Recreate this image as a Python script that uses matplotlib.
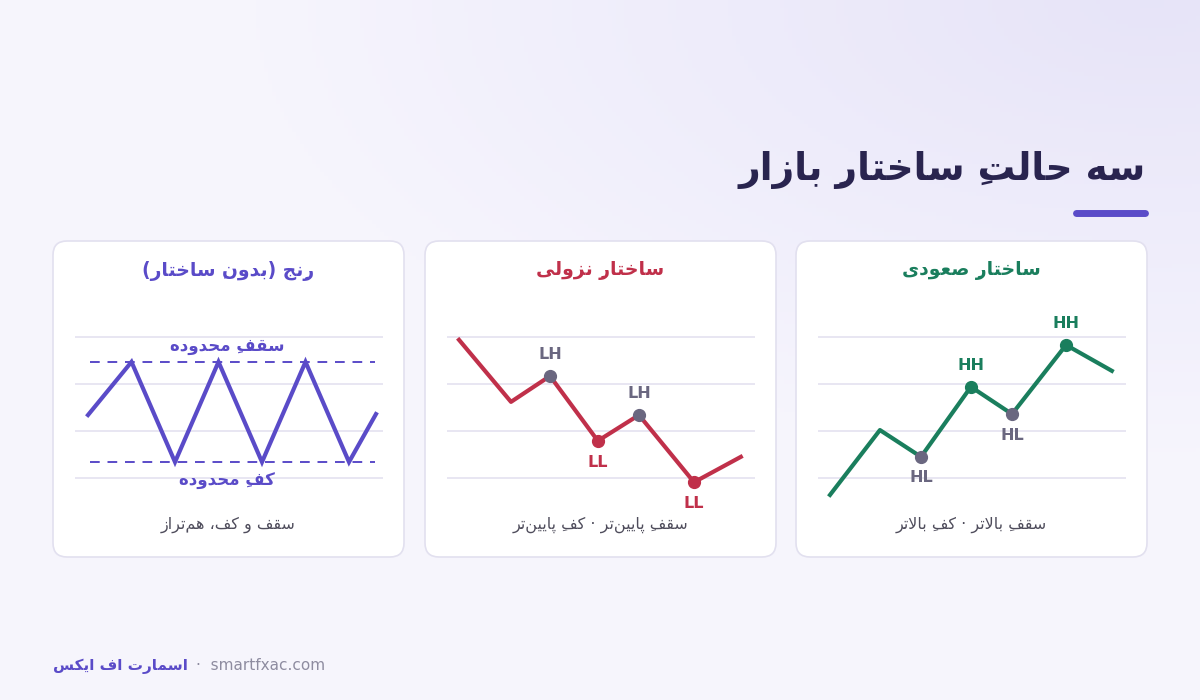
import numpy as np
import matplotlib
matplotlib.use("Agg")
import matplotlib.pyplot as plt
from matplotlib.patches import FancyBboxPatch

# ---------------- data ----------------
title = "سه حالتِ ساختارِ بازار"
panel_titles = ["رِنج (بدونِ ساختار)", "ساختارِ نزولی", "ساختارِ صعودی"]
panel_subtitles = ["سقف و کف، هم\u200cتراز", "سقفِ پایین\u200cتر · کفِ پایین\u200cتر", "سقفِ بالاتر · کفِ بالاتر"]
range_top_label = "سقفِ محدوده"
range_bottom_label = "کفِ محدوده"
footer_brand = "اسمارت اف ایکس"
footer_site = "·  smartfxac.com"

range_x = [0, 1, 2, 3, 4, 5, 6, 6.62]
range_y = [1.34, 2.47, 0.34, 2.47, 0.34, 2.47, 0.34, 1.36]
range_ceiling = 2.47
range_floor = 0.34

down_x = [0, 1, 1.75, 2.67, 3.46, 4.52, 5.42]
down_y = [2.94, 1.62, 2.17, 0.79, 1.34, -0.09, 0.45]
down_marks = [(2, "LH"), (3, "LL"), (4, "LH"), (5, "LL")]

up_x = [0, 0.96, 1.75, 2.71, 3.5, 4.54, 5.42]
up_y = [-0.36, 1.02, 0.45, 1.94, 1.36, 2.83, 2.28]
up_marks = [(2, "HL"), (3, "HH"), (4, "HL"), (5, "HH")]

grid_levels = [0, 1, 2, 3]

# ---------------- simple Persian shaper ----------------
F = {
    'ا': (0xFE8D, 0xFE8E), 'د': (0xFEA9, 0xFEAA), 'ر': (0xFEAD, 0xFEAE), 'ز': (0xFEAF, 0xFEB0),
    'و': (0xFEED, 0xFEEE),
    'ب': (0xFE8F, 0xFE90, 0xFE91, 0xFE92), 'پ': (0xFB56, 0xFB57, 0xFB58, 0xFB59),
    'ت': (0xFE95, 0xFE96, 0xFE97, 0xFE98), 'ج': (0xFE9D, 0xFE9E, 0xFE9F, 0xFEA0),
    'ح': (0xFEA1, 0xFEA2, 0xFEA3, 0xFEA4), 'خ': (0xFEA5, 0xFEA6, 0xFEA7, 0xFEA8),
    'س': (0xFEB1, 0xFEB2, 0xFEB3, 0xFEB4), 'ص': (0xFEB9, 0xFEBA, 0xFEBB, 0xFEBC),
    'ع': (0xFEC9, 0xFECA, 0xFECB, 0xFECC), 'ف': (0xFED1, 0xFED2, 0xFED3, 0xFED4),
    'ق': (0xFED5, 0xFED6, 0xFED7, 0xFED8), 'ک': (0xFB8E, 0xFB8F, 0xFB90, 0xFB91),
    'ل': (0xFEDD, 0xFEDE, 0xFEDF, 0xFEE0), 'م': (0xFEE1, 0xFEE2, 0xFEE3, 0xFEE4),
    'ن': (0xFEE5, 0xFEE6, 0xFEE7, 0xFEE8), 'ه': (0xFEE9, 0xFEEA, 0xFEEB, 0xFEEC),
    'ی': (0xFBFC, 0xFBFD, 0xFBFE, 0xFBFF),
}
MARKS = {'\u0650', '\u064E', '\u064F'}


def shape(s):
    chars = list(s)
    n = len(chars)

    def prev_letter(i):
        j = i - 1
        while j >= 0 and chars[j] in MARKS:
            j -= 1
        return j

    def next_letter(i):
        j = i + 1
        while j < n and chars[j] in MARKS:
            j += 1
        return j

    out = []  # clusters: marks placed before base for LTR rendering
    i = 0
    while i < n:
        c = chars[i]
        if c in MARKS:
            if out:
                out[-1] = c + out[-1]
            i += 1
            continue
        if c == '\u200c':
            i += 1
            continue
        if c in F:
            p = prev_letter(i)
            jp = p >= 0 and chars[p] in F and len(F[chars[p]]) == 4
            nx = next_letter(i)
            if c == 'ل' and nx < n and chars[nx] == 'ا':
                g = chr(0xFEFC if jp else 0xFEFB)
                marks = ''.join(chars[i + 1:nx])
                out.append(marks + g)
                i = nx + 1
                continue
            jn = len(F[c]) == 4 and nx < n and chars[nx] in F
            f = F[c]
            if jp and jn:
                g = f[3]
            elif jp:
                g = f[1]
            elif jn:
                g = f[2]
            else:
                g = f[0]
            out.append(chr(g))
        else:
            out.append({'(': ')', ')': '('}.get(c, c))
        i += 1
    return ''.join(out[::-1])


# ---------------- figure ----------------
W, H = 1200, 700
fig = plt.figure(figsize=(12, 7), dpi=100)
bg = fig.add_axes([0, 0, 1, 1])
bg.set_xlim(0, W)
bg.set_ylim(H, 0)
bg.axis('off')

yy, xx = np.mgrid[0:H:4, 0:W:4]
d = np.sqrt(((xx - 1150) / 900.0) ** 2 + ((yy - 0) / 450.0) ** 2)
t = np.clip(d, 0, 1)[..., None]
c1 = np.array([0.905, 0.894, 0.973])
c2 = np.array([0.965, 0.961, 0.992])
img = c1 * (1 - t) + c2 * t
bg.imshow(img, extent=[0, W, H, 0], aspect='auto', zorder=0)

FONT = 'DejaVu Sans'
DARK = '#29244f'
PURPLE = '#5a4bc8'
RED = '#c0304a'
GREEN = '#1a7e5d'
GRAY = '#6a6780'
SUB = '#4f4d5c'

bg.text(1146, 170, shape(title), ha='right', va='center', fontsize=27,
        fontweight='bold', color=DARK, family=FONT, zorder=3)
bg.plot([1076, 1145], [213, 213], color=PURPLE, lw=5, solid_capstyle='round', zorder=3)

card_lefts = [53, 425, 796]
card_w, card_top, card_h = 351, 241, 316
accents = [PURPLE, RED, GREEN]
for k, cl in enumerate(card_lefts):
    bg.add_patch(FancyBboxPatch((cl, card_top), card_w, card_h,
                                boxstyle="round,pad=0,rounding_size=14",
                                fc='white', ec='#e2e0ef', lw=1.2, zorder=1))
    bg.text(cl + card_w / 2, 271, shape(panel_titles[k]), ha='center', va='center',
            fontsize=13.5, fontweight='bold', color=accents[k], family=FONT, zorder=3)
    bg.text(cl + card_w / 2, 525, shape(panel_subtitles[k]), ha='center', va='center',
            fontsize=11.5, color=SUB, family=FONT, zorder=3)

brand = bg.text(53, 666, shape(footer_brand), ha='left', va='center', fontsize=11,
                fontweight='bold', color=PURPLE, family=FONT, zorder=3)
fig.canvas.draw()
bb = brand.get_window_extent()
site_x = bb.x1 + 8
bg.text(site_x, 666, footer_site, ha='left', va='center', fontsize=11,
        color='#8e8ca0', family=FONT, zorder=3)


def px_axes(x0, x1, y_top, y_bot):
    return fig.add_axes([x0 / W, 1 - y_bot / H, (x1 - x0) / W, (y_bot - y_top) / H])


def setup(ax, xlim):
    ax.set_xlim(*xlim)
    ax.set_ylim(-22 / 47, 168 / 47)
    ax.axis('off')
    ax.patch.set_alpha(0)
    for g in grid_levels:
        ax.axhline(g, color='#e6e4f1', lw=1.3, zorder=1)


# panel 1: range
ax1 = px_axes(75, 383, 310, 500)
setup(ax1, (-13 / 43.5, 295 / 43.5))
ax1.plot(range_x, range_y, color=PURPLE, lw=3, zorder=3, solid_joinstyle='miter')
for lvl in (range_ceiling, range_floor):
    ax1.plot([0.05, 6.6], [lvl, lvl], color=PURPLE, lw=1.4, ls=(0, (5, 4)), zorder=2)
ax1.text(3.2, range_ceiling + 0.33, shape(range_top_label), ha='center', va='center',
         fontsize=12, fontweight='bold', color=PURPLE, family=FONT)
ax1.text(3.2, range_floor - 0.4, shape(range_bottom_label), ha='center', va='center',
         fontsize=12, fontweight='bold', color=PURPLE, family=FONT)


def trend_panel(x0, xs, ys, marks, color, high_lbls):
    ax = px_axes(x0, x0 + 308, 310, 500)
    setup(ax, (-12 / 52, 296 / 52))
    ax.plot(xs, ys, color=color, lw=3, zorder=3)
    for idx, lbl in marks:
        mc = color if lbl in high_lbls else GRAY
        ax.plot(xs[idx], ys[idx], 'o', ms=8.5, color=mc, zorder=4)
        above = lbl in ('HH', 'LH')
        dy = 0.45 if above else -0.45
        ax.text(xs[idx], ys[idx] + dy, lbl, ha='center', va='center', fontsize=11.5,
                fontweight='bold', color=mc, family=FONT)
    return ax


trend_panel(447, down_x, down_y, down_marks, RED, ('LL',))
trend_panel(818, up_x, up_y, up_marks, GREEN, ('HH',))

fig.savefig('out.png', dpi=100)
